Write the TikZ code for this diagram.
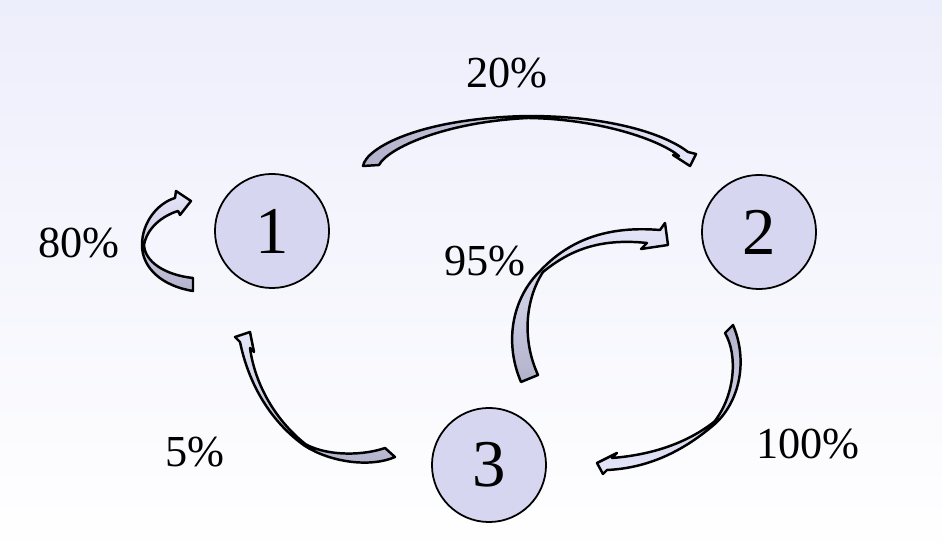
\documentclass[tikz,border=0pt]{standalone}
\usepackage{fontspec}
\setmainfont{Liberation Serif}
\usetikzlibrary{positioning}
\definecolor{statefill}{RGB}{214,214,240}
\definecolor{ribbondark}{RGB}{178,178,204}
\definecolor{ribbonlight}{RGB}{230,230,250}
\definecolor{bgtop}{RGB}{237,238,251}

\begin{document}
\begin{tikzpicture}[x=0.01cm, y=-0.01cm,
  state/.style={circle, draw=black, line width=0.5pt, fill=statefill, minimum size=1.14cm, inner sep=0pt, font=\fontsize{19}{19}\selectfont},
  pct/.style={font=\fontsize{12.6}{13}\selectfont},
  ribbon/.style={draw=black, line width=0.7pt, line join=round, top color=ribbonlight, bottom color=ribbondark}]
  % Background
  \fill[top color=bgtop, bottom color=white] (0,0) rectangle (942,558);
  \useasboundingbox (0,0) rectangle (942,558);

  % States
  \node[state] (one) at (272,231) {1};
  \node[state] (two) at (759,232) {2};
  \node[state] (three) at (489,465) {3};

  % Percentages
  \node[pct] (p20) at (507,73) {20\%};
  \node[pct] (p80) at (79,243) {80\%};
  \node[pct] (p95) at (485,261) {95\%};
  \node[pct] (p5) at (195,452) {5\%};
  \node[pct] (p100) at (808,444) {100\%};

  % Arrows
  \draw[ribbon, shading angle=-90] (363,166) .. controls (366,148) and (420,118) .. (528,116)
    .. controls (610,116) and (665,134) .. (688,152) -- (696,154) -- (690,166) -- (673,155) -- (679,156)
    .. controls (660,140) and (600,119) .. (528,118) .. controls (445,122) and (388,148) .. (379,165) -- cycle;
  \draw[ribbon] (193,291) .. controls (162,286) and (142,268) .. (142,245)
    .. controls (142,222) and (158,203) .. (175,198) -- (176,191) -- (191,201) -- (180,215) -- (178,211)
    .. controls (162,216) and (147,228) .. (144,245) .. controls (145,262) and (165,275) .. (193,278) -- cycle;
  \draw[ribbon] (521,382) .. controls (505,345) and (510,300) .. (541,270)
    .. controls (565,245) and (600,225) .. (660,230) -- (665,223) -- (668,245) -- (641,249) -- (647,243)
    .. controls (600,238) and (570,250) .. (543,272) .. controls (525,300) and (522,340) .. (538,375) -- cycle;
  \draw[ribbon] (395,457) .. controls (370,468) and (330,462) .. (305,446)
    .. controls (275,425) and (250,390) .. (240,342) -- (235,337) -- (250,332) -- (254,352) -- (250,348)
    .. controls (255,385) and (276,421) .. (306,444.5) .. controls (330,457) and (365,455) .. (385,448) -- cycle;
  \draw[ribbon, shading angle=180] (733,325) .. controls (748,360) and (740,400) .. (716,423)
    .. controls (685,450) and (650,468) .. (607,470) -- (603,474) -- (597,463) -- (617,453) -- (612,458)
    .. controls (650,455) and (686,444) .. (714.5,421.5) .. controls (735,395) and (738,355) .. (725,333) -- cycle;
\end{tikzpicture}
\end{document}
